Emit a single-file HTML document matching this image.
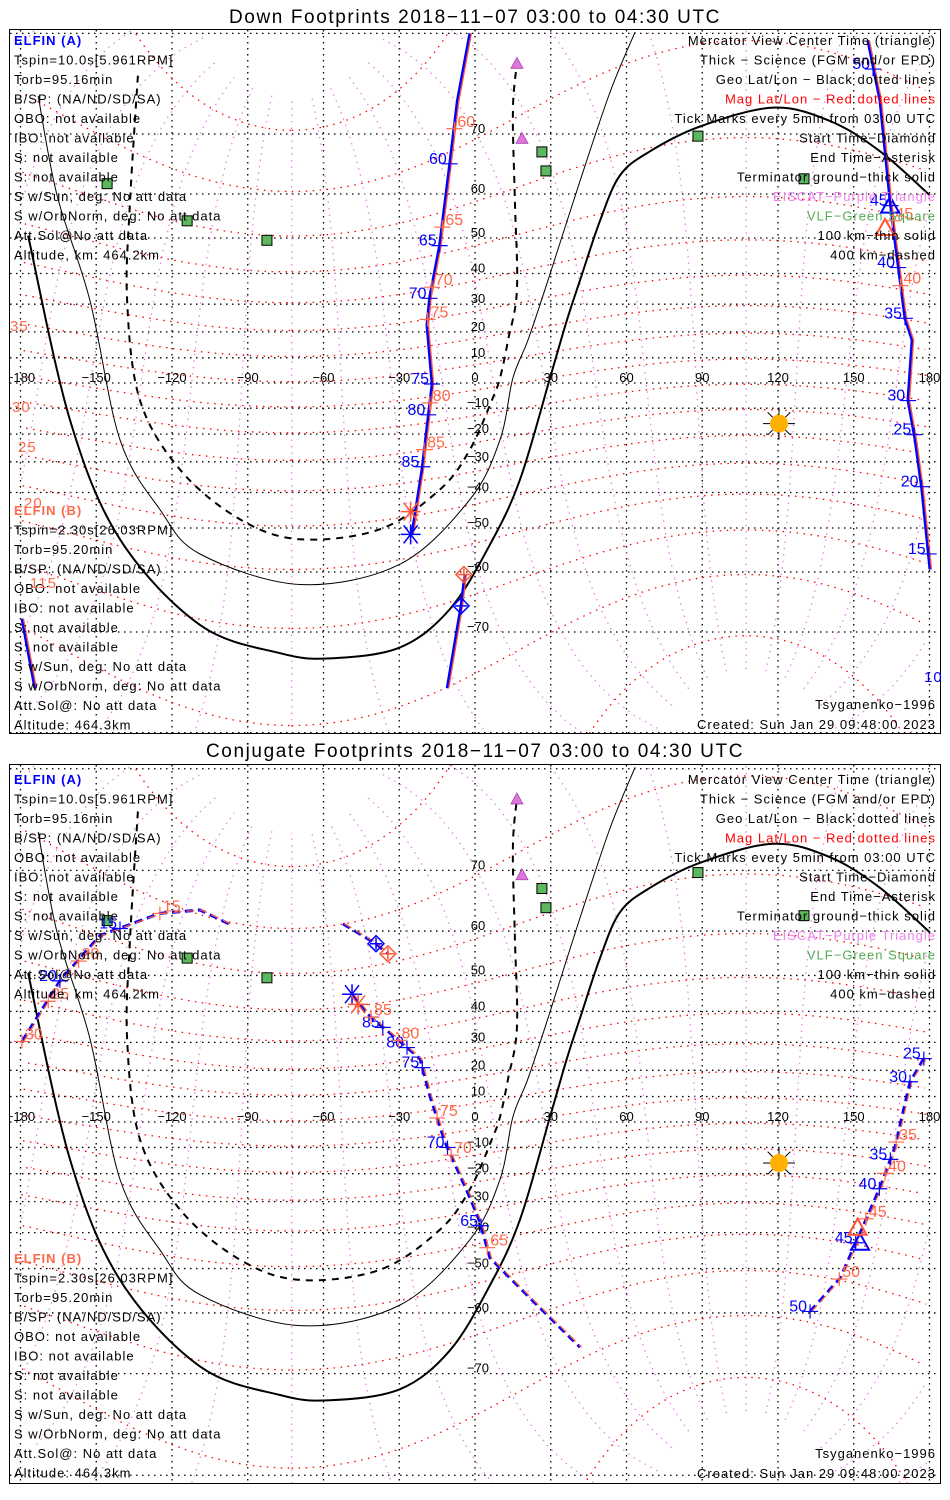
<!DOCTYPE html>
<html><head><meta charset="utf-8">
<style>
html,body{margin:0;padding:0;background:#fff;overflow:hidden;width:950px;height:1500px;}
svg{display:block;font-family:"Liberation Sans",sans-serif;}
.ttl{font-size:19px;fill:#000;text-anchor:middle;letter-spacing:1.6px;}
#texts text{letter-spacing:1px;}
</style></head>
<body>
<svg id="chart" width="950" height="1500" viewBox="0 0 950 1500" xmlns="http://www.w3.org/2000/svg">
<defs>
<clipPath id="clip1"><rect x="10" y="30" width="930" height="703"/></clipPath>
<clipPath id="clip2"><rect x="10" y="765" width="930" height="718"/></clipPath>
</defs>
<text class="ttl" x="475" y="23">Down Footprints 2018−11−07 03:00 to 04:30 UTC</text>
<text class="ttl" x="475" y="757">Conjugate Footprints 2018−11−07 03:00 to 04:30 UTC</text>
<g id="map1" clip-path="url(#clip1)"></g>
<g id="map2" clip-path="url(#clip2)"></g>
<rect x="9.5" y="29.5" width="931" height="704" fill="none" stroke="#000" stroke-width="1"/>
<rect x="9.5" y="764.5" width="931" height="719" fill="none" stroke="#000" stroke-width="1"/>
<g id="texts"></g>
</svg>
<script>
// ---------- data (lon/lat degrees) ----------
const termThickLon=[-177,-160.4,-140.6,-108.9,-77.2,-57.4,-29.7,-9.9,5.9,17.8,29.7,36.4,41.6,49.5,57.4,69.3,89.1,118,140.6,160.4,180.2];
const termThickLat=[50.6,-14.6,-52.8,-69,-72.7,-73.3,-72,-66.6,-54.1,-36,2,24.3,37.9,54.2,63.5,67.5,71,73.3,71.7,67.5,59.7];
const term100Lon=[-173,-165.5,-152.5,-140.6,-124.8,-108.9,-69.3,-29.7,-2,9.9,15,21,28.9,41.6,53.5,63.4];
const term100Lat=[74.6,59.7,31.3,-22.1,-45,-56.2,-62.4,-58.4,-42.1,-22.1,2,16.9,37.9,62.5,75,80.1];
const term400Lon=[-133.5,-136.6,-137.8,-132.7,-116.8,-93.1,-69.3,-37.6,-13.9,-2,6.7,9.9,13.1,16.6,15.8,15,16.6];
const term400Lat=[76.6,58.6,31.3,-6.8,-32.7,-47.7,-52.8,-50.3,-39.1,-25.7,-6.8,2,16.9,34.7,58.6,72.9,77.7];
const eiscatLon=[16.6,18.6];
const eiscatLat=[77.7,69.4];
const vlfLon=[-145.7,-114,-82.4,26.5,28.1,88.3,130.3];
const vlfLat=[62,54.2,49.4,67.4,64.3,69.7,62.9];
const sunLon=[120.4];
const sunLat=[-16];
const d_mainLon=[-2,-7,-10,-14,-18,-19,-17,-21,-25];
const d_mainLat=[80,74,65.5,48,32,22.5,-0.4,-32.7,-51.6];
const d_lowLon=[-4,-5.5,-11];
const d_lowLat=[-60.5,-66.1,-76.4];
const d_rightLon=[155.6,160.4,164.4,166.3,170.3,173.1,171.5,174.3,177,180.2];
const d_rightLat=[79.5,74.1,58.6,49.4,25,16.9,-6.8,-22.1,-39.1,-59.5];
const d_leftLon=[-179.4,-174.3];
const d_leftLat=[-68.1,-76.4];
const d_mainTickA=[65.5,48,32,-0.4,-12.6,-31.7];
const d_mainTickALbl=["60","65","70","75","80","85"];
const d_mainTickB=[70.7,52.7,35.7,24.6,-7.9,-25.7];
const d_mainTickBLbl=["60","65","70","75","80","85"];
const d_rightTickA=[77.2,57.6,41.8,25,-7,-20.2,-38.2,-56.2];
const d_rightTickALbl=["50","45","40","35","30","25","20","15"];
const d_rightTickB=[54.2,36.2];
const d_rightTickBLbl=["45","40"];
const c_seg1Lon=[-52.3,-39.2,-34.5];
const c_seg1Lat=[61.4,57.4,55.2];
const c_mainLon=[-48.7,-41.6,-29.7,-21.8,-17.8,-11.9,-2,2,5.9,21.8,41.6];
const c_mainLat=[45,38.5,30.3,24.3,10,-7.9,-28.6,-36.9,-47.2,-56.9,-66.1];
const c_mainTickA=[35,28.2,21,-10,-37.9];
const c_mainTickALbl=["85","80","75","70","65"];
const c_mainTickB=[38.2,30.7,1.6,-13,-44.4];
const c_mainTickBLbl=["85","80","75","70","65"];
const c_rightLon=[132.7,144.6,151.7,160.4,166.3,172.3,178.2];
const c_rightLat=[-59.7,-52.4,-41.6,-25,-10,15.7,25];
const c_rightTickA=[-59.7,-43,-25.5,-14.6,15.7,24.3];
const c_rightTickALbl=["50","45","40","35","30","25"];
const c_rightTickB=[-52.6,-35.7,-19.9,-7.9];
const c_rightTickBLbl=["50","45","40","35"];
const c_leftLon=[-179.4,-164.4,-148.5,-124.8,-108.9,-95.8];
const c_leftLat=[30.3,48.6,59.1,63.3,63.9,61];
const c_leftTickA=[48.6,60.5];
const c_leftTickALbl=["20","15"];
const c_leftTickB=[30.3,43,53.5,63.3];
const c_leftTickBLbl=["30","25","20","15"];
const lonTicks=[-180,-150,-120,-90,-60,-30,0,30,60,90,120,150,180];
const latTicks=[-70,-60,-50,-40,-30,-20,-10,10,20,30,40,50,60,70];

// ---------- axes ----------
const NS="http://www.w3.org/2000/svg";
const P1={y0:383,k:143.5,top:30,bot:733,g:document.getElementById('map1')};
const P2={y0:1122,k:145,top:765,bot:1483,g:document.getElementById('map2')};
const BLUE="#0000ff", RED="#ff5533", TXTRED="#ff6a4a";
function xOf(lon){return 475+lon*2.525;}
function yOf(P,lat){const r=lat*Math.PI/180;return P.y0-P.k*Math.log(Math.tan(Math.PI/4+r/2));}
function mk(parent,tag,attrs){const el=document.createElementNS(NS,tag);for(const k in attrs)el.setAttribute(k,attrs[k]);parent.appendChild(el);return el;}
function pathFrom(P,lons,lats){let d="",prev=null;for(let i=0;i<lons.length;i++){const x=xOf(lons[i]),y=Math.max(P.top-20,Math.min(P.bot+20,yOf(P,lats[i])));if(prev!==null&&Math.abs(x-prev)>400)d+="M";else d+=(i?"L":"M");d+=x.toFixed(1)+","+y.toFixed(1);prev=x;}return d;}
function smoothFrom(P,lons,lats){const p=lons.map((lo,i)=>[xOf(lo),yOf(P,lats[i])]);let d=`M${p[0][0].toFixed(1)},${p[0][1].toFixed(1)}`;
 for(let i=0;i<p.length-1;i++){const p0=p[Math.max(0,i-1)],p1=p[i],p2=p[i+1],p3=p[Math.min(p.length-1,i+2)];
  const c1=[p1[0]+(p2[0]-p0[0])/6,p1[1]+(p2[1]-p0[1])/6],c2=[p2[0]-(p3[0]-p1[0])/6,p2[1]-(p3[1]-p1[1])/6];
  d+=`C${c1[0].toFixed(1)},${c1[1].toFixed(1)} ${c2[0].toFixed(1)},${c2[1].toFixed(1)} ${p2[0].toFixed(1)},${p2[1].toFixed(1)}`;}
 return d;}

const PL=80.5*Math.PI/180, PO=-72.6*Math.PI/180, TH=Math.PI/2-PL;
function magToGeo(mlat,mlon){const a=mlat*Math.PI/180,b=mlon*Math.PI/180;
 let x=Math.cos(a)*Math.cos(b),y=Math.cos(a)*Math.sin(b),z=Math.sin(a);
 let x1=x*Math.cos(TH)+z*Math.sin(TH),z1=-x*Math.sin(TH)+z*Math.cos(TH),y1=y;
 let x2=x1*Math.cos(PO)-y1*Math.sin(PO),y2=x1*Math.sin(PO)+y1*Math.cos(PO);
 return [Math.atan2(y2,x2)*180/Math.PI,Math.asin(Math.max(-1,Math.min(1,z1)))*180/Math.PI];}

function drawPanel(P){
 const g=P.g;
 for(const la of latTicks.concat([0,80,-80])){const y=yOf(P,la);if(y<P.top||y>P.bot)continue;
  const el=mk(g,'line',{x1:10,x2:940,y1:y,y2:y,stroke:'#000','stroke-width':1.3,'stroke-dasharray':'1.5,4.5'});
  
  }
 for(const lo of lonTicks){const x=xOf(lo);
  const el=mk(g,'line',{x1:x,x2:x,y1:P.top,y2:P.bot,stroke:'#000','stroke-width':1.3,'stroke-dasharray':'1.5,4.5'});
  
  }
 for(let ml=0;ml<360;ml+=20){const lo=[],la=[];for(let m=-84;m<=84;m+=2){const p=magToGeo(m,ml);lo.push(p[0]);la.push(p[1]);}
  const el=mk(g,'path',{d:pathFrom(P,lo,la),fill:'none',stroke:'#ee82ee','stroke-width':1.3,'stroke-dasharray':'1.5,5'});
  
  }
 for(let m=-80;m<=80;m+=10){const lo=[],la=[];for(let ml=0;ml<=360;ml+=3){const p=magToGeo(m,ml);lo.push(p[0]);la.push(p[1]);}
  const el=mk(g,'path',{d:pathFrom(P,lo,la),fill:'none',stroke:'#ff0000','stroke-width':1.3,'stroke-dasharray':'1.5,5.5'});
  
  }
 for(const lo of lonTicks){const t=mk(g,'text',{x:xOf(lo),y:yOf(P,0)-1,'text-anchor':'middle','font-size':13,fill:'#000'});t.textContent=String(lo).replace('-','−');
  
  }
 for(const la of latTicks){const t=mk(g,'text',{x:478,y:yOf(P,la)-1,'text-anchor':'middle','font-size':13,fill:'#000'});t.textContent=String(la).replace('-','−');
  
  }
 let el=mk(g,'path',{d:smoothFrom(P,termThickLon,termThickLat),fill:'none',stroke:'#000','stroke-width':2});
 
 
 el=mk(g,'path',{d:smoothFrom(P,term100Lon,term100Lat),fill:'none',stroke:'#000','stroke-width':1});
 
 
 el=mk(g,'path',{d:smoothFrom(P,term400Lon,term400Lat),fill:'none',stroke:'#000','stroke-width':2,'stroke-dasharray':'7,6'});
 
 
 for(let i=0;i<vlfLon.length;i++){const s=mk(g,'rect',{x:xOf(vlfLon[i])-5,y:yOf(P,vlfLat[i])-5,width:10,height:10,fill:'#5cb85c',stroke:'#000','stroke-width':1});
  
  }
 for(let i=0;i<eiscatLon.length;i++){const x=xOf(eiscatLon[i]),y=yOf(P,eiscatLat[i]);const s=mk(g,'path',{d:`M${x-6},${y+5}L${x+6},${y+5}L${x},${y-6}Z`,fill:'#dd77dd',stroke:'#aa44aa','stroke-width':0.8});
  
  }
 const sx=xOf(sunLon[0]),sy=yOf(P,sunLat[0]);
 const sun=mk(g,'g',{});
 
 
 for(let a=0;a<360;a+=45){const r=a*Math.PI/180;mk(sun,'line',{x1:sx+9*Math.cos(r),y1:sy+9*Math.sin(r),x2:sx+16*Math.cos(r),y2:sy+16*Math.sin(r),stroke:'#000','stroke-width':1});}
 mk(sun,'circle',{cx:sx,cy:sy,r:9,fill:'#ffb000'});
}

function track(P,lons,lats,dash,name){
 const d=pathFrom(P,lons,lats);
 const g=P.g;
 const b=mk(g,'path',{d:d,fill:'none',stroke:BLUE,'stroke-width':3,'stroke-dasharray':dash?'8,5':'none'});
 
 
 const r=mk(g,'path',{d:d,fill:'none',stroke:RED,'stroke-width':1.3,'stroke-dasharray':dash?'8,5':'none',transform:'translate(1.5,0)'});
 
 
}
function lonAt(lons,lats,lat){for(let i=0;i<lats.length-1;i++){const a=lats[i],b=lats[i+1];if((lat-a)*(lat-b)<=0&&a!==b){const t=(lat-a)/(b-a);return lons[i]+t*(lons[i+1]-lons[i]);}}return lons[0];}
function ticks(P,lons,lats,tl,lbl,color,side){
 const g=P.g;
 for(let i=0;i<tl.length;i++){const x=xOf(lonAt(lons,lats,tl[i])),y=yOf(P,tl[i]);
  const tg=mk(g,'g',{});
  
  
  mk(tg,'line',{x1:x-8,x2:x+8,y1:y,y2:y,stroke:color,'stroke-width':1.2});
  mk(tg,'line',{x1:x,x2:x,y1:y-7,y2:y+7,stroke:color,'stroke-width':1.2});
  const t=mk(tg,'text',{x:side<0?x-3:x+3,y:side<0?y:y-2,'text-anchor':side<0?'end':'start','font-size':16,fill:color});
  t.textContent=lbl[i];}
}
function diamond(P,lon,lat,color,name){const x=xOf(lon),y=yOf(P,lat);const s=mk(P.g,'path',{d:`M${x},${y-8}L${x+8},${y}L${x},${y+8}L${x-8},${y}ZM${x-6},${y}L${x+6},${y}M${x},${y-6}L${x},${y+6}`,fill:'none',stroke:color,'stroke-width':1.5});
 
 }
function asterisk(P,lon,lat,color,name){const x=xOf(lon),y=yOf(P,lat);const s=mk(P.g,'path',{d:`M${x-10},${y}L${x+10},${y}M${x-7},${y-9}L${x+7},${y+9}M${x+7},${y-9}L${x-7},${y+9}M${x},${y-10}L${x},${y+10}`,fill:'none',stroke:color,'stroke-width':1.5});
 
 }
function tri(P,lon,lat,color,name){const x=xOf(lon),y=yOf(P,lat);const s=mk(P.g,'path',{d:`M${x-9},${y+7}L${x+9},${y+7}L${x},${y-9}Z`,fill:'none',stroke:color,'stroke-width':2});
 
 }

drawPanel(P1);
track(P1,d_mainLon,d_mainLat,false,'down-main-track');
track(P1,d_lowLon,d_lowLat,false,'down-lower-track');
track(P1,d_rightLon,d_rightLat,false,'down-right-track');
track(P1,d_leftLon,d_leftLat,false,'down-left-track');
ticks(P1,d_mainLon,d_mainLat,d_mainTickA,d_mainTickALbl,BLUE,-1);
ticks(P1,d_mainLon,d_mainLat,d_mainTickB,d_mainTickBLbl,TXTRED,1);
ticks(P1,d_rightLon,d_rightLat,d_rightTickA,d_rightTickALbl,BLUE,-1);
ticks(P1,d_rightLon,d_rightLat,d_rightTickB,d_rightTickBLbl,TXTRED,1);
asterisk(P1,-25.5,-45.6,RED,'end-asterisk-b');
asterisk(P1,-25.5,-51.6,BLUE,'end-asterisk-a');
diamond(P1,-4.4,-60.5,RED,'start-diamond-b');
diamond(P1,-5.5,-66.1,BLUE,'start-diamond-a');
tri(P1,164.4,57.6,BLUE,'center-triangle-a');
tri(P1,162.4,52.5,RED,'center-triangle-b');
drawPanel(P2);
track(P2,c_seg1Lon,c_seg1Lat,true,'conj-start-track');
track(P2,c_mainLon,c_mainLat,true,'conj-main-track');
track(P2,c_rightLon,c_rightLat,true,'conj-right-track');
track(P2,c_leftLon,c_leftLat,true,'conj-left-track');
ticks(P2,c_mainLon,c_mainLat,c_mainTickA,c_mainTickALbl,BLUE,-1);
ticks(P2,c_mainLon,c_mainLat,c_mainTickB,c_mainTickBLbl,TXTRED,1);
ticks(P2,c_rightLon,c_rightLat,c_rightTickA,c_rightTickALbl,BLUE,-1);
ticks(P2,c_rightLon,c_rightLat,c_rightTickB,c_rightTickBLbl,TXTRED,1);
ticks(P2,c_leftLon,c_leftLat,c_leftTickA,c_leftTickALbl,BLUE,-1);
ticks(P2,c_leftLon,c_leftLat,c_leftTickB,c_leftTickBLbl,TXTRED,1);
diamond(P2,-39.2,57.4,BLUE,'start-diamond-a');
diamond(P2,-34.5,55.2,RED,'start-diamond-b');
asterisk(P2,-48.7,45,BLUE,'end-asterisk-a');
asterisk(P2,-46.3,42.1,RED,'end-asterisk-b');
tri(P2,152.5,-43,BLUE,'center-triangle-a');
tri(P2,151.5,-38.5,RED,'center-triangle-b');

// ---------- text blocks ----------
const leftA=["Tspin=10.0s[5.961RPM]","Torb=95.16min","B/SP: (NA/ND/SD/SA)","OBO: not available","IBO: not available","S: not available","S: not available","S w/Sun, deg: No att data","S w/OrbNorm, deg: No att data","Att.Sol@No att data","Altitude, km: 464.2km"];
const leftB=["Tspin=2.30s[26.03RPM]","Torb=95.20min","B/SP: (NA/ND/SD/SA)","OBO: not available","IBO: not available","S: not available","S: not available","S w/Sun, deg: No att data","S w/OrbNorm, deg: No att data","Att.Sol@: No att data","Altitude: 464.3km"];
const legend=[["Mercator View Center Time (triangle)","#000"],["Thick - Science (FGM and/or EPD)","#000"],["Geo Lat/Lon - Black dotted lines","#000"],["Mag Lat/Lon - Red dotted lines","#ff0000"],["Tick Marks every 5min from 03:00 UTC","#000"],["Start Time-Diamond","#000"],["End Time-Asterisk","#000"],["Terminator ground-thick solid","#000"],["EISCAT-Purple Triangle","#ee82ee"],["VLF-Green Square","#55aa55"],["100 km-thin solid","#000"],["400 km-dashed","#000"]];
const T=document.getElementById('texts');
function panelText(topA,topB,bot){
 let t=mk(T,'text',{x:14,y:topA+5,'font-size':13,fill:'#0000ff','font-weight':'bold'});t.textContent="ELFIN (A)";
 
 
 leftA.forEach((s,i)=>{const e=mk(T,'text',{x:14,y:topA+5+19.5*(i+1),'font-size':13,fill:'#000'});e.textContent=s;
  
  });
 t=mk(T,'text',{x:14,y:topB+5,'font-size':13,fill:'#ff6a4a','font-weight':'bold'});t.textContent="ELFIN (B)";
 
 
 leftB.forEach((s,i)=>{const e=mk(T,'text',{x:14,y:topB+5+19.5*(i+1),'font-size':13,fill:'#000'});e.textContent=s;
  
  });
 legend.forEach((s,i)=>{const e=mk(T,'text',{x:936,y:topA+5+19.5*i,'font-size':13,fill:s[1],'text-anchor':'end'});e.textContent=s[0].replace(/ - /g,' − ').replace(/-/g,'−');
  
  });
 let e=mk(T,'text',{x:936,y:bot-20+5,'font-size':13,fill:'#000','text-anchor':'end'});e.textContent="Tsyganenko−1996";
 
 
 e=mk(T,'text',{x:936,y:bot+5,'font-size':13,fill:'#000','text-anchor':'end'});e.textContent="Created: Sun Jan 29 09:48:00 2023";
 
 
}
panelText(40,510,724);
panelText(779,1258,1473);
const edgeLbl=[["35",10,331],["30",12,412],["25",18,452],["20",24,508],["115",30,588],["10",924,682]];
edgeLbl.forEach(s=>{const e=mk(T,'text',{x:s[1],y:s[2],'font-size':15,fill:s[0]==="10"?BLUE:TXTRED});e.textContent=s[0];
 
 });
</script>
</body></html>
